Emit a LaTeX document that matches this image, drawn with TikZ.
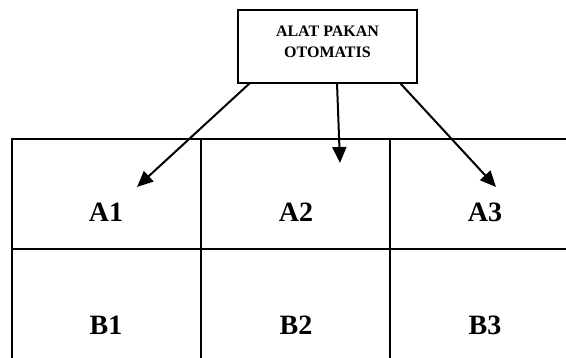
\documentclass[tikz,border=0pt]{standalone}
\usepackage{fontspec}
\setmainfont{Liberation Serif}
\usetikzlibrary{arrows.meta}
\begin{document}
\begin{tikzpicture}[x=1pt,y=-1pt,
  rule/.style={line width=2pt},
  conn/.style={line width=2pt,-{Triangle[length=16pt,width=14pt]}},
  celltext/.style={font=\fontsize{28}{32}\selectfont\bfseries},
  boxframe/.style={draw,line width=2pt,minimum width=179pt,minimum height=73pt,inner sep=0pt},
  boxlabel/.style={align=center,inner sep=0pt,font=\fontsize{16}{21}\selectfont\bfseries}]
\useasboundingbox (0,0) rectangle (566,358);
% top box
\node[boxframe] (box) at (327.5,46.5) {};
\node[boxlabel] (boxtext) at (327.5,41.5) {ALAT PAKAN\\OTOMATIS};
% table
\draw[rule] (566,139) -- (12,139) -- (12,358);
\draw[rule] (12,249) -- (566,249);
\draw[rule] (201,139) -- (201,358);
\draw[rule] (390,139) -- (390,358);
\node[celltext] (a1) at (106,212) {A1};
\node[celltext] (a2) at (296,212) {A2};
\node[celltext] (a3) at (485,212) {A3};
\node[celltext] (b1) at (106,325) {B1};
\node[celltext] (b2) at (296,325) {B2};
\node[celltext] (b3) at (485,325) {B3};
% arrow ends
\coordinate (t1) at (137,187);
\coordinate (t2) at (340,163);
\coordinate (t3) at (496,187);
\coordinate (s1) at (250,83);
\coordinate (s2) at (337,83);
\coordinate (s3) at (400,83);
\draw[conn] (s1) -- (t1);
\draw[conn] (s2) -- (t2);
\draw[conn] (s3) -- (t3);
\end{tikzpicture}
\end{document}
